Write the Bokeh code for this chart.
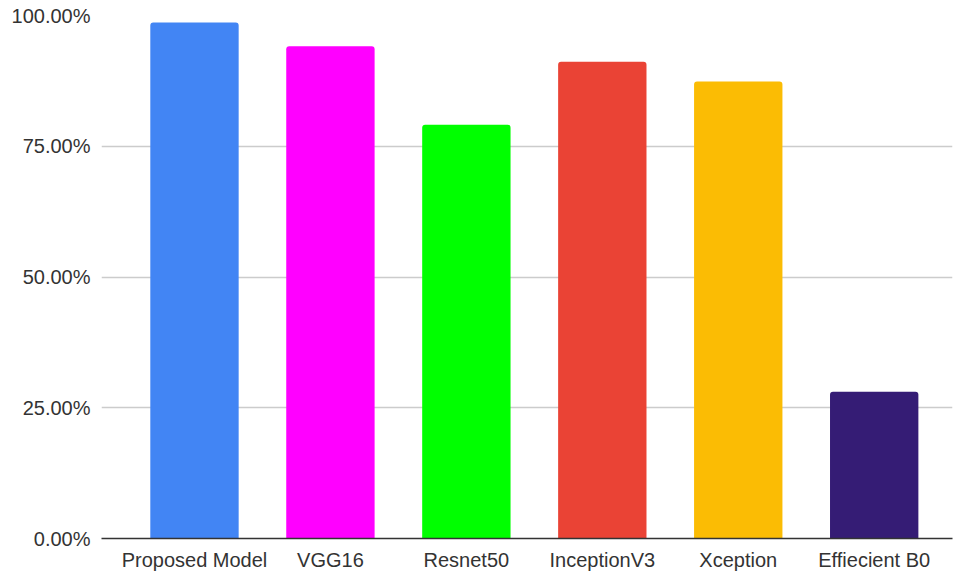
from bokeh.plotting import figure
from bokeh.models import ColumnDataSource, Range1d, FixedTicker
from bokeh.embed import file_html
from bokeh.resources import INLINE

# Accuracy of each model (percent)
models = ["Proposed Model", "VGG16", "Resnet50", "InceptionV3", "Xception", "Effiecient B0"]
accuracy = [98.64, 94.10, 79.13, 91.18, 87.36, 28.06]
colors = ["#4285F4", "#FF00FF", "#00FF00", "#EA4335", "#FBBC04", "#351C75"]
y_ticks = [0, 25, 50, 75, 100]
y_tick_labels = ["0.00%", "25.00%", "50.00%", "75.00%", "100.00%"]

positions = list(range(len(models)))
source = ColumnDataSource(dict(x=positions, top=accuracy, color=colors, name=models))

p = figure(width=955, height=574, output_backend="svg", toolbar_location=None,
           x_range=Range1d(-0.684, 5.576), y_range=Range1d(0, 100),
           min_border_left=101, min_border_right=3, min_border_top=15, min_border_bottom=36)

p.vbar(x="x", top="top", bottom=0, width=0.65, color="color", source=source,
       line_color=None, border_radius=(3, 3, 0, 0))

font = "Liberation Sans"

# x axis: model names under each bar
p.xaxis.ticker = FixedTicker(ticks=positions)
p.xaxis.major_label_overrides = {i: m for i, m in enumerate(models)}
p.xaxis.major_tick_line_color = None
p.xaxis.minor_tick_line_color = None
p.xaxis.major_tick_out = 0
p.xaxis.major_label_standoff = 10
p.xaxis.axis_line_color = "#333333"
p.xaxis.axis_line_width = 1.5
p.xaxis.major_label_text_font = font
p.xaxis.major_label_text_font_size = "20px"
p.xaxis.major_label_text_color = "#333333"

# y axis: percentage labels only
p.yaxis.ticker = FixedTicker(ticks=y_ticks)
p.yaxis.major_label_overrides = {t: l for t, l in zip(y_ticks, y_tick_labels)}
p.yaxis.axis_line_color = None
p.yaxis.major_tick_line_color = None
p.yaxis.minor_tick_line_color = None
p.yaxis.major_tick_out = 0
p.yaxis.major_label_standoff = 11
p.yaxis.major_label_text_font = font
p.yaxis.major_label_text_font_size = "20px"
p.yaxis.major_label_text_color = "#333333"

p.xgrid.grid_line_color = None
p.ygrid.ticker = FixedTicker(ticks=y_ticks)
p.ygrid.grid_line_color = "#cccccc"
p.ygrid.grid_line_width = 1.3
p.outline_line_color = None

open("out.html", "w").write(file_html(p, INLINE))
